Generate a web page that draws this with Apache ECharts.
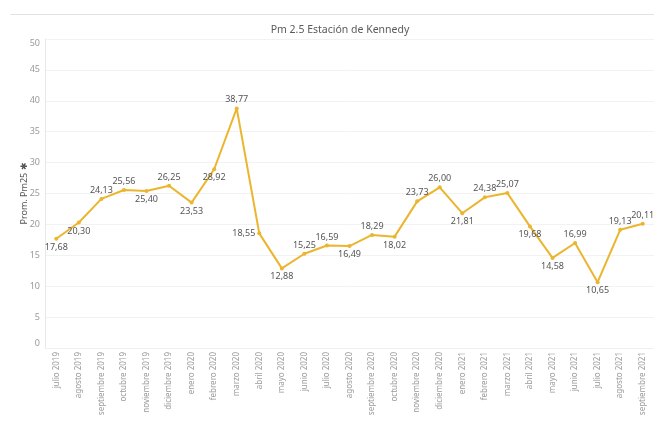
<!DOCTYPE html>
<html>
<head>
<meta charset="utf-8">
<script src="https://cdn.jsdelivr.net/npm/echarts@6/dist/echarts.min.js"></script>
<style>
html,body{margin:0;padding:0;background:#fff;}
#c{width:654px;height:423px;}
</style>
</head>
<body>
<div id="c"></div>
<script>
const categories = ['julio 2019','agosto 2019','septiembre 2019','octubre 2019','noviembre 2019','diciembre 2019','enero 2020','febrero 2020','marzo 2020','abril 2020','mayo 2020','junio 2020','julio 2020','agosto 2020','septiembre 2020','octubre 2020','noviembre 2020','diciembre 2020','enero 2021','febrero 2021','marzo 2021','abril 2021','mayo 2021','junio 2021','julio 2021','agosto 2021','septiembre 2021'];
const pm25Values = [17.68,20.30,24.13,25.56,25.40,26.25,23.53,28.92,38.77,18.55,12.88,15.25,16.59,16.49,18.29,18.02,23.73,26.00,21.81,24.38,25.07,19.68,14.58,16.99,10.65,19.13,20.11];
const yTicks = {min: 0, max: 50, interval: 5};

// label placement (style only)
const labelPlacement = ['b','br','tl','t','b','t','b','br','t','l','b','tl','t','b','t','br','tl','t','b','tl','tr','bl','b','t','b','tl','t'];

const FONT = 'Noto Sans';
function placeLabel(p) {
  const m = {
    t: {position: 'top', offset: [0, 0]},
    b: {position: 'bottom', offset: [0, 0]},
    tl: {position: 'top', offset: [-11, 0]},
    tr: {position: 'top', offset: [11, 0]},
    bl: {position: 'bottom', offset: [-11, 0]},
    br: {position: 'bottom', offset: [11, 0]},
    l: {position: 'left', offset: [0, 0]}
  };
  return m[p];
}

const seriesData = pm25Values.map((v, i) => {
  const pl = placeLabel(labelPlacement[i]);
  return {value: v, label: {position: pl.position, offset: pl.offset}};
});

const chart = echarts.init(document.getElementById('c'));
chart.setOption({
  animation: false,
  backgroundColor: '#fff',
  textStyle: {fontFamily: FONT},
  title: {
    text: 'Pm 2.5 Estación de Kennedy',
    left: 335, top: 20, textAlign: 'center',
    textStyle: {fontFamily: FONT, fontSize: 10.5, fontWeight: 'normal', color: '#5a5a5a'}
  },
  graphic: [{
    type: 'line', left: 8, top: 12,
    shape: {x1: 0, y1: 0, x2: 660, y2: 0},
    style: {stroke: '#e2e2e2', lineWidth: 1}
  }],
  grid: {left: 45, right: -3, top: 39, bottom: 75, containLabel: false},
  xAxis: {
    type: 'category',
    data: categories,
    boundaryGap: true,
    axisLine: {show: true, lineStyle: {color: '#f0f0f0'}},
    axisTick: {show: false},
    axisLabel: {rotate: 90, interval: 0, color: '#9a9a9a', fontSize: 8, fontFamily: FONT, margin: 4},
    splitLine: {show: false}
  },
  yAxis: {
    type: 'value',
    min: yTicks.min, max: yTicks.max, interval: yTicks.interval,
    name: 'Prom. Pm25 ✱',
    nameLocation: 'middle',
    nameGap: 16,
    nameMoveOverlap: false,
    nameTextStyle: {color: '#555', fontSize: 9, fontFamily: FONT},
    axisLine: {show: true, lineStyle: {color: '#e8e8e8'}},
    axisTick: {show: false},
    axisLabel: {color: '#9a9a9a', fontSize: 9, fontFamily: FONT, margin: 5,
      verticalAlignMinLabel: 'bottom', verticalAlignMaxLabel: 'top'},
    splitLine: {show: true, lineStyle: {color: '#f2f2f2', width: 1}}
  },
  series: [{
    type: 'line',
    data: seriesData,
    symbol: 'circle',
    symbolSize: 4,
    lineStyle: {color: '#EBB52E', width: 2},
    itemStyle: {color: '#EBB52E'},
    label: {
      show: true,
      distance: 2,
      color: '#555',
      fontSize: 9,
      fontFamily: FONT,
      formatter: p => p.value.toFixed(2).replace('.', ',')
    },
    labelLayout: {hideOverlap: false}
  }]
});
</script>
</body>
</html>
